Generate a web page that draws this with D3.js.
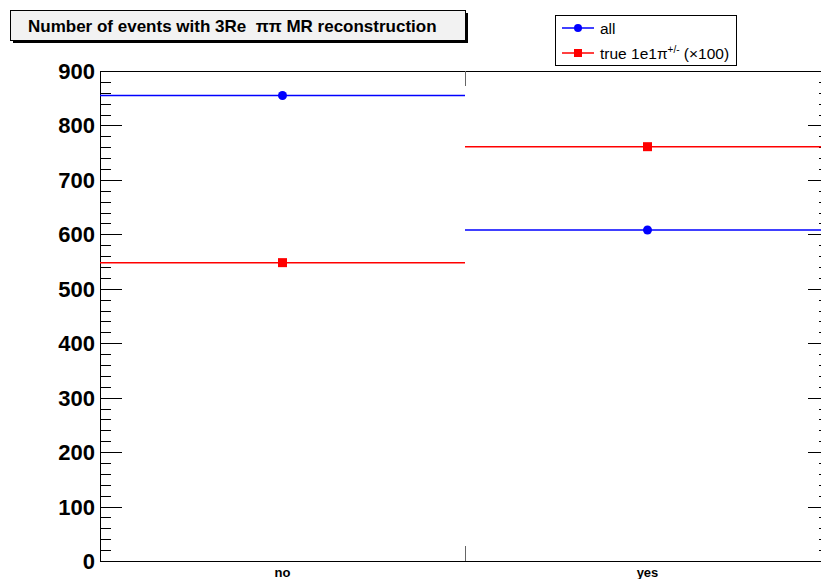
<!DOCTYPE html>
<html>
<head>
<meta charset="utf-8">
<script src="https://cdn.jsdelivr.net/npm/d3@7"></script>
<style>
  body { margin: 0; background: #fff; }
  svg { display: block; font-family: "Liberation Sans", Arial, Helvetica, sans-serif; }
</style>
</head>
<body>
<svg id="chart" width="821" height="579"></svg>
<script>
// Categories on the x axis and the two series per category
const categories = ["no", "yes"];
const allValues = [855, 608];
const trueValues = [548, 761];   // true 1e1π± counts, scaled ×100
const yTicks = [0, 100, 200, 300, 400, 500, 600, 700, 800, 900];

const svg = d3.select("#chart");
const frame = { left: 100, right: 830, top: 71, bottom: 561 };

const x = d3.scaleBand().domain(categories).range([frame.left, frame.right]).padding(0);
const y = d3.scaleLinear().domain([0, 900]).range([frame.bottom, frame.top]);
const snap = v => Math.round(v) + 0.5;

// Frame
svg.append("rect")
  .attr("x", frame.left + 0.5).attr("y", frame.top + 0.5)
  .attr("width", frame.right - frame.left).attr("height", frame.bottom - frame.top)
  .attr("fill", "none").attr("stroke", "#000").attr("stroke-width", 1);

// Left and right axes: major + minor ticks pointing inward
const minor = d3.range(0, 901, 20);
const tickG = svg.append("g").attr("stroke", "#000").attr("stroke-width", 1);
minor.forEach(v => {
  const isMajor = v % 100 === 0;
  const len = isMajor ? 22 : 11;
  const yy = snap(y(v));
  tickG.append("line").attr("x1", frame.left).attr("x2", frame.left + len).attr("y1", yy).attr("y2", yy);
  tickG.append("line").attr("x1", frame.right).attr("x2", frame.right - len).attr("y1", yy).attr("y2", yy);
});

// Bin divider ticks on top/bottom
const mid = x("yes") + 0.5;
tickG.append("line").attr("x1", mid).attr("x2", mid).attr("y1", frame.bottom).attr("y2", frame.bottom - 15).attr("stroke", "#666");
tickG.append("line").attr("x1", mid).attr("x2", mid).attr("y1", frame.top).attr("y2", frame.top + 15).attr("stroke", "#666");

// Y tick labels
svg.append("g").selectAll("text").data(yTicks).join("text")
  .attr("x", 95).attr("y", d => y(d) + 8)
  .attr("text-anchor", "end")
  .attr("font-size", 22).attr("font-weight", "bold")
  .text(d => d);

// X category labels
svg.append("g").selectAll("text").data(categories).join("text")
  .attr("x", d => x(d) + x.bandwidth() / 2).attr("y", 577)
  .attr("text-anchor", "middle")
  .attr("font-size", 13).attr("font-weight", "bold")
  .text(d => d);

// Series: horizontal bin lines with markers at bin centres
const plot = svg.append("g");
function drawSeries(values, color, shape) {
  values.forEach((v, i) => {
    const c = categories[i];
    const yy = y(v);
    plot.append("line")
      .attr("x1", x(c)).attr("x2", x(c) + x.bandwidth())
      .attr("y1", yy).attr("y2", yy)
      .attr("stroke", color).attr("stroke-width", 1.5);
    const cx = x(c) + x.bandwidth() / 2;
    if (shape === "circle") {
      plot.append("circle").attr("cx", cx).attr("cy", yy).attr("r", 4.5).attr("fill", color);
    } else {
      plot.append("rect").attr("x", cx - 4.5).attr("y", yy - 4.5).attr("width", 9).attr("height", 9).attr("fill", color);
    }
  });
}
drawSeries(allValues, "#0000ff", "circle");
drawSeries(trueValues, "#ff0000", "square");

// Title box with drop shadow
svg.append("rect").attr("x", 13).attr("y", 13).attr("width", 455).attr("height", 30).attr("fill", "#000");
svg.append("rect").attr("x", 10.5).attr("y", 10.5).attr("width", 455).attr("height", 30)
  .attr("fill", "#f2f2f2").attr("stroke", "#000").attr("stroke-width", 1);
svg.append("text").attr("x", 28).attr("y", 32)
  .attr("font-size", 17).attr("font-weight", "bold")
  .attr("xml:space", "preserve").style("white-space", "pre")
  .text("Number of events with 3Re  ππ MR reconstruction");

// Legend
const leg = svg.append("g");
leg.append("rect").attr("x", 555.5).attr("y", 15.5).attr("width", 181).attr("height", 50)
  .attr("fill", "#fff").attr("stroke", "#000").attr("stroke-width", 1);
const legItems = [
  { color: "#0000ff", shape: "circle", yy: 28 },
  { color: "#ff0000", shape: "square", yy: 53 }
];
legItems.forEach(it => {
  leg.append("line").attr("x1", 562).attr("x2", 594).attr("y1", it.yy).attr("y2", it.yy)
    .attr("stroke", it.color).attr("stroke-width", 1.5);
  if (it.shape === "circle") {
    leg.append("circle").attr("cx", 578).attr("cy", it.yy).attr("r", 4).attr("fill", it.color);
  } else {
    leg.append("rect").attr("x", 574).attr("y", it.yy - 4).attr("width", 8).attr("height", 8).attr("fill", it.color);
  }
});
leg.append("text").attr("x", 600).attr("y", 34).attr("font-size", 15.5).text("all");
const t2 = leg.append("text").attr("x", 600).attr("y", 59).attr("font-size", 15.5);
t2.append("tspan").text("true 1e1π");
t2.append("tspan").attr("font-size", 10).attr("dy", -6).text("+/-");
t2.append("tspan").attr("dy", 6).text(" (×100)");
</script>
</body>
</html>
